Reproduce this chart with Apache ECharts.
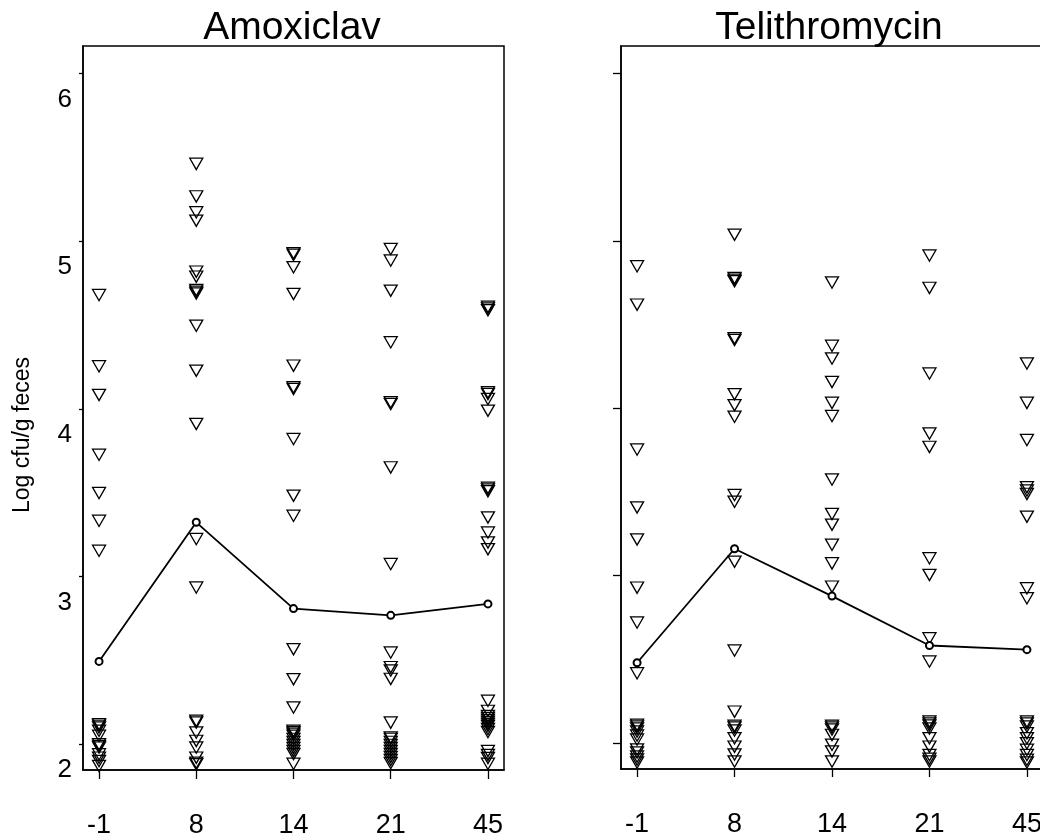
<!DOCTYPE html>
<html>
<head>
    <meta charset="utf-8">
    <script src="https://cdn.jsdelivr.net/npm/echarts@6/dist/echarts.min.js"></script>
    <style>
        html, body { margin: 0; padding: 0; background: #fff; }
        #container { width: 1040px; height: 837px; }
    </style>
</head>
<body>
<div id="container"></div>
<script>
    // sampling days (evenly spaced on the chart)
    let days = ['-1', '8', '14', '21', '45'];
    let yTicks = [2, 3, 4, 5, 6];

    // Amoxiclav, log cfu/g feces per subject
    let amoxDm1 = [4.69, 4.265, 4.094, 3.737, 3.509, 3.343, 3.164, 2.13, 2.12, 2.11, 2.09, 2.06, 2.01, 2.0, 1.99, 1.95, 1.93, 1.91, 1.88];
    let amoxD8 = [5.473, 5.279, 5.184, 5.134, 4.83, 4.80, 4.72, 4.71, 4.70, 4.507, 4.239, 3.921, 3.234, 2.945, 2.15, 2.14, 2.08, 2.03, 1.99, 1.93, 1.90, 1.89];
    let amoxD14 = [4.94, 4.93, 4.856, 4.697, 4.269, 4.14, 4.13, 3.831, 3.493, 3.373, 2.577, 2.398, 2.229, 2.09, 2.081, 2.072, 2.06, 2.042, 2.024, 2.006, 1.988, 1.97, 1.952, 1.893];
    let amoxD21 = [4.965, 4.896, 4.716, 4.408, 4.05, 4.04, 3.662, 3.085, 2.557, 2.47, 2.45, 2.40, 2.139, 2.05, 2.042, 2.024, 2.006, 1.988, 1.97, 1.952, 1.934, 1.916, 1.898];
    let amoxD45 = [4.62, 4.61, 4.60, 4.11, 4.10, 4.07, 4.0, 3.54, 3.53, 3.52, 3.363, 3.273, 3.214, 3.174, 2.269, 2.209, 2.179, 2.167, 2.155, 2.143, 2.131, 2.119, 2.101, 2.083, 1.97, 1.946, 1.928, 1.893];
    let amoxMean = [2.493, 3.323, 2.808, 2.768, 2.836];

    // Telithromycin
    let teliDm1 = [4.86, 4.631, 3.765, 3.419, 3.228, 2.94, 2.731, 2.428, 2.12, 2.11, 2.098, 2.08, 2.056, 2.032, 1.973, 1.955, 1.931, 1.913, 1.895];
    let teliD8 = [5.049, 4.79, 4.78, 4.77, 4.43, 4.42, 4.096, 4.03, 3.961, 3.493, 3.453, 3.095, 2.564, 2.199, 2.114, 2.104, 2.086, 2.04, 1.99, 1.943, 1.901];
    let teliD14 = [4.763, 4.385, 4.309, 4.169, 4.044, 3.965, 3.586, 3.38, 3.316, 3.196, 3.085, 2.946, 2.114, 2.104, 2.092, 2.06, 2.001, 1.961, 1.901];
    let teliD21 = [4.924, 4.731, 4.219, 3.861, 3.781, 3.115, 3.016, 2.637, 2.498, 2.14, 2.128, 2.116, 2.098, 2.04, 1.99, 1.94, 1.918, 1.901];
    let teliD45 = [4.279, 4.044, 3.822, 3.54, 3.52, 3.50, 3.364, 2.936, 2.876, 2.14, 2.128, 2.11, 2.07, 2.04, 2.01, 1.971, 1.94, 1.911, 1.895];
    let teliMean = [2.48, 3.161, 2.878, 2.583, 2.558];

    let amoxCols = [amoxDm1, amoxD8, amoxD14, amoxD21, amoxD45];
    let teliCols = [teliDm1, teliD8, teliD14, teliD21, teliD45];

    // [dayIndex, value] pairs
    function toPoints(cols) {
        let out = [];
        cols.forEach(function (col, i) {
            col.forEach(function (v) { out.push([i, v]); });
        });
        return out;
    }
    function meanPoints(arr) {
        return arr.map(function (v, i) { return [i, v]; });
    }

    let font = '"Liberation Sans", Arial, Helvetica, sans-serif';
    let tickIdx = [0, 1, 2, 3, 4];

    function xAxisFor(gridIndex, tickLen) {
        return {
            gridIndex: gridIndex,
            type: 'value',
            min: -0.165,
            max: 4.165,
            splitLine: { show: false },
            axisLine: { show: true, onZero: false, lineStyle: { color: '#000', width: 1.5 } },
            axisTick: { show: true, customValues: tickIdx, length: tickLen, lineStyle: { color: '#000', width: 1.3 } },
            axisLabel: {
                customValues: tickIdx,
                formatter: function (v) { return days[Math.round(v)]; },
                color: '#000', fontSize: 27, fontFamily: font, margin: 42
            }
        };
    }
    function yAxisFor(gridIndex, showLabels, tickLen) {
        return {
            gridIndex: gridIndex,
            type: 'value',
            min: 1.845,
            max: 6.165,
            splitLine: { show: false },
            axisLine: { show: true, onZero: false, lineStyle: { color: '#000', width: 1.5 } },
            axisTick: { show: true, customValues: yTicks, length: tickLen, lineStyle: { color: '#000', width: 1.3 } },
            axisLabel: {
                show: showLabels,
                customValues: yTicks,
                // labels sit a little below their ticks in the original
                formatter: function (v) { return '\n\n' + v; },
                lineHeight: 26,
                color: '#000', fontSize: 26, fontFamily: font, margin: 11
            }
        };
    }

    let triSymbol = 'path://M0,0L10,0L5,8.66Z';
    function scatterFor(idx, cols) {
        return {
            type: 'scatter',
            xAxisIndex: idx, yAxisIndex: idx,
            data: toPoints(cols),
            symbol: triSymbol,
            symbolSize: [13, 11.3],
            symbolOffset: [0, 1.9],
            itemStyle: { color: 'rgba(0,0,0,0)', borderColor: '#000', borderWidth: 1.3, opacity: 1 },
            silent: true,
            z: 2
        };
    }
    function meanFor(idx, arr) {
        return {
            type: 'line',
            xAxisIndex: idx, yAxisIndex: idx,
            data: meanPoints(arr),
            symbol: 'emptyCircle',
            symbolSize: 7,
            showAllSymbol: true,
            lineStyle: { color: '#000', width: 1.8 },
            itemStyle: { color: '#000', borderWidth: 1.2 },
            silent: true,
            z: 3
        };
    }

    let myChart = echarts.init(document.getElementById('container'), null, { renderer: 'canvas' });
    let option = {
        backgroundColor: '#fff',
        animation: false,
        grid: [
            { left: 83, top: 46, width: 421, height: 724, outerBoundsMode: 'none', show: true, borderColor: '#000', borderWidth: 1.5 },
            { left: 621, top: 46, width: 422, height: 723, outerBoundsMode: 'none', show: true, borderColor: '#000', borderWidth: 1.5 }
        ],
        xAxis: [xAxisFor(0, 9), xAxisFor(1, 8)],
        yAxis: [yAxisFor(0, true, 4), yAxisFor(1, false, 8)],
        graphic: [
            { type: 'text', x: 292, y: 28, style: { text: 'Amoxiclav', fontSize: 39, fontFamily: font, fill: '#000', align: 'center', verticalAlign: 'middle' } },
            { type: 'text', x: 829, y: 28, style: { text: 'Telithromycin', fontSize: 39, fontFamily: font, fill: '#000', align: 'center', verticalAlign: 'middle' } },
            { type: 'text', x: 23, y: 435, rotation: Math.PI / 2, style: { text: 'Log cfu/g feces', fontSize: 23, fontFamily: font, fill: '#000', align: 'center', verticalAlign: 'middle' } }
        ],
        series: [
            scatterFor(0, amoxCols),
            meanFor(0, amoxMean),
            scatterFor(1, teliCols),
            meanFor(1, teliMean)
        ]
    };
    myChart.setOption(option);
</script>
</body>
</html>
